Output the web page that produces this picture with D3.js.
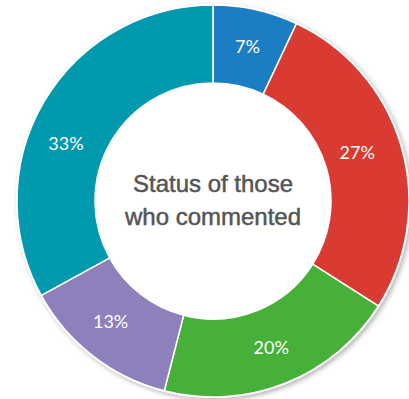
<!DOCTYPE html>
<html>
<head>
<meta charset="utf-8">
<script src="https://cdn.jsdelivr.net/npm/d3@7"></script>
<style>
  body { margin: 0; background: #fff; }
</style>
</head>
<body>
<div id="chart"></div>
<script>
// slice values, clockwise from 12 o'clock
const shares = [7, 27, 20, 13, 33];
const sliceColors = ["#1b7ec4", "#d93a32", "#47b038", "#8e80bb", "#0099ad"];
const titleLines = ["Status of those", "who commented"];

const width = 409, height = 399;
const cx = 213, cy = 201;
const outerR = 196, innerR = 118;
const labelR = 158;
// labels aren't exactly at the middle of each slice in the original
const labelNudge = [0, -0.04, 0, 0.045, -0.16];

const svg = d3.select("#chart")
  .append("svg")
  .attr("width", width)
  .attr("height", height);

// soft shadow round the ring
const defs = svg.append("defs");
const shadow = defs.append("filter")
  .attr("id", "shadow")
  .attr("x", "-10%").attr("y", "-10%")
  .attr("width", "120%").attr("height", "120%");
shadow.append("feDropShadow")
  .attr("dx", 2).attr("dy", 2)
  .attr("stdDeviation", 2.5)
  .attr("flood-color", "#000")
  .attr("flood-opacity", 0.3);

const g = svg.append("g")
  .attr("transform", "translate(" + cx + "," + cy + ")");

const pie = d3.pie().sort(null).value(d => d);
const arc = d3.arc().innerRadius(innerR).outerRadius(outerR);
const arcs = pie(shares);

// white backing disc carries the shadow
g.append("circle")
  .attr("r", outerR + 1)
  .attr("fill", "#fff")
  .attr("filter", "url(#shadow)");

g.selectAll("path.slice")
  .data(arcs)
  .enter()
  .append("path")
  .attr("class", "slice")
  .attr("d", arc)
  .attr("fill", (d, i) => sliceColors[i])
  .attr("stroke", "#fff")
  .attr("stroke-width", 1.5);

g.selectAll("text.pct")
  .data(arcs)
  .enter()
  .append("text")
  .attr("class", "pct")
  .attr("transform", (d, i) => {
    let a = (d.startAngle + d.endAngle) / 2 + labelNudge[i];
    let r = i == 1 ? labelR - 6 : labelR;
    return "translate(" + (r * Math.sin(a)) + "," + (-r * Math.cos(a)) + ")";
  })
  .attr("text-anchor", "middle")
  .attr("dy", "0.36em")
  .attr("fill", "#fff")
  .style("font-family", "Lato, 'Open Sans', sans-serif")
  .style("font-size", "18px")
  .text(d => d.data + "%");

g.selectAll("text.title")
  .data(titleLines)
  .enter()
  .append("text")
  .attr("class", "title")
  .attr("text-anchor", "middle")
  .attr("y", (d, i) => -9 + i * 33)
  .attr("fill", "#555")
  .attr("stroke", "#555")
  .attr("stroke-width", 0.5)
  .style("font-family", "'Liberation Sans', Arial, sans-serif")
  .style("font-size", "24px")
  .text(d => d);
</script>
</body>
</html>
